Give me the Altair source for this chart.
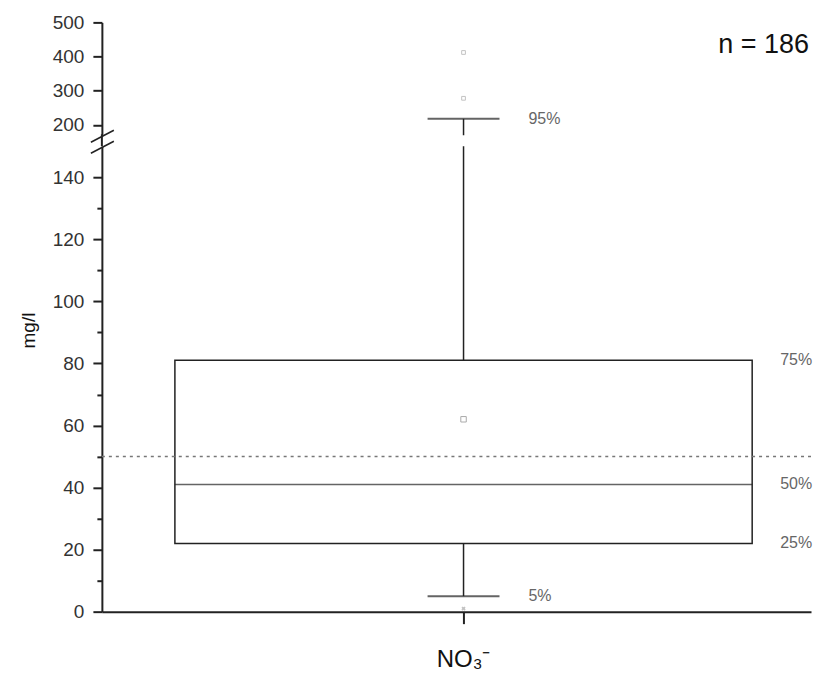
import altair as alt
import pandas as pd

# ---- data ----
categories = ["NO₃⁻"]
p5 = [5]
p25 = [22]
p50 = [41]
p75 = [81]
p95 = [218]
mean_val = [62]
outliers = [1, 278, 412]
limit = [50]
box_labels = ["25%", "50%", "75%"]
whisker_labels = ["5%", "95%"]
n_text = "n = 186"

UP_DOMAIN = [170, 500]
LO_DOMAIN = [0, 150]

FONT = "Liberation Sans"
W = 710
H_UP = 113
H_LO = 466

stats = pd.DataFrame({"cat": categories, "p5": p5, "p25": p25, "p50": p50,
                      "p75": p75, "p95": p95, "mean": mean_val})
out_df = pd.DataFrame({"cat": categories * len(outliers), "v": outliers})
lim_df = pd.DataFrame({"v": limit})
box_lab_df = pd.DataFrame({"cat": categories * 3, "v": [p25[0], p50[0], p75[0]], "t": box_labels})
wh_lab_df = pd.DataFrame({"cat": categories * 2, "v": [p5[0], p95[0]], "t": whisker_labels})
dummy = pd.DataFrame({"k": [0]})


def in_up(field):
    return f"datum.{field} >= {UP_DOMAIN[0]} && datum.{field} <= {UP_DOMAIN[1]}"


def in_lo(field):
    return f"datum.{field} >= {LO_DOMAIN[0]} && datum.{field} <= {LO_DOMAIN[1]}"


x_scale = alt.Scale(paddingInner=0, paddingOuter=0.5, align=0.52)
x_up = alt.X("cat:N", axis=None, title=None, scale=x_scale)
x_lo = alt.X("cat:N", title=None, scale=x_scale,
             axis=alt.Axis(labelAngle=0, labelFont=FONT, labelFontSize=24, labelColor="#111",
                           tickSize=12, tickWidth=2, tickColor="#222", domainWidth=2,
                           domainColor="#222", labelPadding=24))

y_up_scale = alt.Scale(domain=UP_DOMAIN, nice=False, zero=False, clamp=True)
y_lo_scale = alt.Scale(domain=LO_DOMAIN, nice=False, clamp=True)

y_up_axis = alt.Axis(values=[200, 300, 400, 500], title=None, grid=False,
                     labelOverlap=False,
                     labelFont=FONT, labelFontSize=19, labelColor="#333",
                     tickSize=9, tickWidth=2, tickColor="#222", domainWidth=2,
                     domainColor="#222", labelPadding=9)
y_lo_axis = alt.Axis(values=list(range(0, 150, 10)),
                     labelExpr="datum.value % 20 == 0 ? datum.label : ''",
                     labelOverlap=False,
                     tickSize=alt.condition("datum.value % 20 == 0", alt.value(9), alt.value(5)),
                     title="mg/l", titleFont=FONT, titleFontSize=19, titleFontWeight="normal",
                     titleColor="#111", titleY=184, titlePadding=14, grid=False,
                     labelFont=FONT, labelFontSize=19, labelColor="#333",
                     tickWidth=2, tickColor="#222", domainWidth=2, domainColor="#222",
                     labelPadding=9)


def yu(field):
    return alt.Y(field, scale=y_up_scale, axis=y_up_axis, title=None)


def yl(field):
    return alt.Y(field, scale=y_lo_scale, axis=y_lo_axis, title="mg/l")


# ---------- upper panel ----------
up_base = alt.Chart(stats)
up_whisker = up_base.mark_rule(color="#222", strokeWidth=1.5).encode(
    x=x_up, y=yu("p75:Q"), y2="p95:Q")
up_cap = up_base.mark_tick(color="#222", size=72, thickness=2).encode(
    x=x_up, y=yu("p95:Q"))
up_out = alt.Chart(out_df).transform_filter(in_up("v")).mark_point(
    shape="square", size=14, color="#aaa", filled=False, strokeWidth=1).encode(
    x=x_up, y=yu("v:Q"))
up_lab = alt.Chart(wh_lab_df).transform_filter(in_up("v")).mark_text(
    align="left", dx=65, font=FONT, fontSize=16, color="#666").encode(
    x=x_up, y=yu("v:Q"), text="t:N")
n_lab = alt.Chart(dummy).mark_text(text=n_text, align="right", baseline="middle",
                                   font=FONT, fontSize=27, color="#111").encode(
    x=alt.value(W - 2), y=alt.value(23))

upper = alt.layer(up_whisker, up_cap, up_out, up_lab, n_lab).properties(width=W, height=H_UP)

# ---------- lower panel ----------
lo_base = alt.Chart(stats)
box = lo_base.mark_bar(size=578, fill="white", stroke="#222", strokeWidth=1.5).encode(
    x=x_lo, y=yl("p25:Q"), y2="p75:Q")
limit_rule = alt.Chart(lim_df).mark_rule(color="#777", strokeDash=[3, 4], strokeWidth=1.5).encode(
    y=yl("v:Q"))
median = lo_base.mark_tick(color="#222", size=578, thickness=1.5).encode(
    x=x_lo, y=yl("p50:Q"))
wh_low = lo_base.mark_rule(color="#222", strokeWidth=1.5).encode(
    x=x_lo, y=yl("p5:Q"), y2="p25:Q")
wh_high = lo_base.mark_rule(color="#222", strokeWidth=1.5).encode(
    x=x_lo, y=yl("p75:Q"), y2="p95:Q")
cap_low = lo_base.mark_tick(color="#222", size=72, thickness=2).encode(
    x=x_lo, y=yl("p5:Q"))
mean_pt = lo_base.mark_point(shape="square", size=30, color="#888", filled=False,
                             strokeWidth=1).encode(
    x=x_lo, y=yl("mean:Q"))
lo_out = alt.Chart(out_df).transform_filter(in_lo("v")).mark_point(
    shape="cross", angle=45, size=18, color="#aaa", filled=True).encode(
    x=x_lo, y=yl("v:Q"))
lo_box_lab = alt.Chart(box_lab_df).mark_text(align="left", dx=317, font=FONT, fontSize=16,
                                             color="#666").encode(
    x=x_lo, y=yl("v:Q"), text="t:N")
lo_wh_lab = alt.Chart(wh_lab_df).transform_filter(in_lo("v")).mark_text(
    align="left", dx=65, font=FONT, fontSize=16, color="#666").encode(
    x=x_lo, y=yl("v:Q"), text="t:N")

# axis break decoration
axis_join = alt.Chart(dummy).mark_rule(color="#222", strokeWidth=2).encode(
    x=alt.value(0), y=alt.value(-12), y2=alt.value(0))
slash1 = alt.Chart(dummy).mark_rule(color="#222", strokeWidth=1.5).encode(
    x=alt.value(-11), x2=alt.value(12), y=alt.value(-4), y2=alt.value(-16))
slash2 = alt.Chart(dummy).mark_rule(color="#222", strokeWidth=1.5).encode(
    x=alt.value(-11), x2=alt.value(12), y=alt.value(7), y2=alt.value(-5))

lower = alt.layer(box, limit_rule, median, wh_low, wh_high, cap_low, mean_pt, lo_out,
                  lo_box_lab, lo_wh_lab, axis_join, slash1, slash2).properties(width=W, height=H_LO)

chart = alt.vconcat(upper, lower, spacing=11, bounds="flush").properties(
    padding={"left": 11, "top": 5, "right": 0, "bottom": 0},
    background="white",
).configure_view(stroke=None)

chart.save("out.html", embed_options={"renderer": "svg", "actions": False})
